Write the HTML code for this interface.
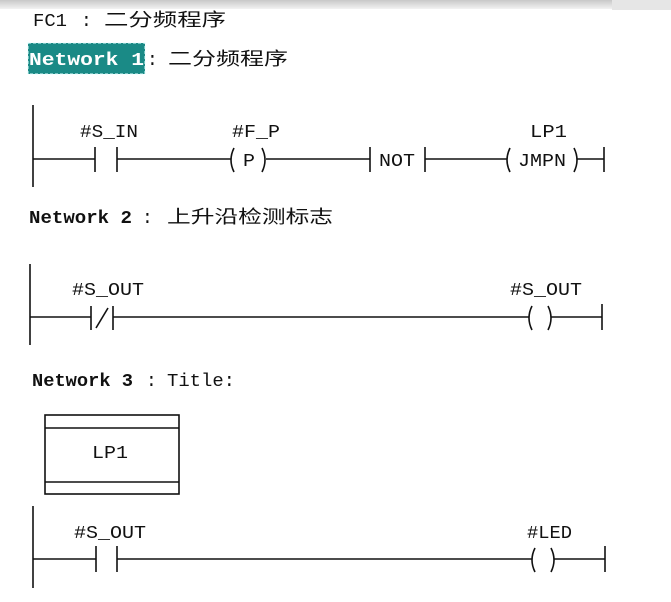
<!DOCTYPE html>
<html><head><meta charset="utf-8"><style>
html,body{margin:0;padding:0;background:#fff;}
body{width:671px;height:602px;overflow:hidden;position:relative;}
svg{position:absolute;left:0;top:0;}
text{font-family:"Liberation Mono","Noto Sans CJK SC",monospace;font-size:18px;fill:#111;}
.c{font-family:"Noto Sans CJK SC","WenQuanYi Zen Hei",sans-serif;font-size:18px;}
.b{font-weight:bold;}
</style></head><body>
<svg width="671" height="602" viewBox="0 0 671 602">
<defs><linearGradient id="g" x1="0" y1="0" x2="0" y2="1"><stop offset="0" stop-color="#c8c8c8"/><stop offset="1" stop-color="#f2f2f2"/></linearGradient></defs>
<rect x="0" y="0" width="671" height="9" fill="url(#g)"/>
<rect x="612" y="0" width="59" height="10" fill="#e6e6e6"/>
<g stroke="#111" stroke-width="1.6" fill="none">
<line x1="33" y1="105" x2="33" y2="187"/>
<line x1="33" y1="159" x2="95" y2="159"/>
<line x1="95" y1="147" x2="95" y2="172"/><line x1="117" y1="147" x2="117" y2="172"/>
<line x1="117" y1="159" x2="231" y2="159"/>
<path d="M234 148 Q228 160 234 172"/><path d="M262 148 Q268 160 262 172"/>
<line x1="266" y1="159" x2="370" y2="159"/>
<line x1="370" y1="147" x2="370" y2="172"/><line x1="425" y1="147" x2="425" y2="172"/>
<line x1="425" y1="159" x2="507" y2="159"/>
<path d="M510 148 Q504 160 510 172"/><path d="M574 148 Q580 160 574 172"/>
<line x1="577" y1="159" x2="604" y2="159"/>
<line x1="604" y1="147" x2="604" y2="172"/>
<line x1="30" y1="264" x2="30" y2="345"/>
<line x1="30" y1="317" x2="91" y2="317"/>
<line x1="91" y1="306" x2="91" y2="330"/><line x1="113" y1="306" x2="113" y2="330"/>
<line x1="96" y1="328" x2="108" y2="308"/>
<line x1="113" y1="317" x2="529" y2="317"/>
<path d="M532 306 Q526 318 532 330"/><path d="M548 306 Q554 318 548 330"/>
<line x1="551" y1="317" x2="602" y2="317"/>
<line x1="602" y1="304" x2="602" y2="330"/>
<rect x="45" y="415" width="134" height="79"/>
<line x1="45" y1="428" x2="179" y2="428"/><line x1="45" y1="482" x2="179" y2="482"/>
<line x1="33" y1="506" x2="33" y2="588"/>
<line x1="33" y1="559" x2="96" y2="559"/>
<line x1="96" y1="546" x2="96" y2="572"/><line x1="117" y1="546" x2="117" y2="572"/>
<line x1="117" y1="559" x2="532" y2="559"/>
<path d="M535 548 Q529 560 535 572"/><path d="M551 548 Q557 560 551 572"/>
<line x1="554" y1="559" x2="605" y2="559"/>
<line x1="605" y1="546" x2="605" y2="572"/>
</g>
<rect x="28" y="43" width="117" height="31" fill="#1a8a86"/>
<rect x="28" y="43" width="117" height="31" fill="none" stroke="#dff" stroke-width="1" stroke-dasharray="3,2"/>
<text x="33" y="26" textLength="34" lengthAdjust="spacingAndGlyphs">FC1</text>
<text x="81" y="26">:</text>
<text x="104" y="26" class="c" textLength="122" lengthAdjust="spacingAndGlyphs">二分频程序</text>
<text x="29" y="65" class="b" style="fill:#fff" textLength="115" lengthAdjust="spacingAndGlyphs">Network 1</text>
<text x="147" y="65">:</text>
<text x="168" y="65" class="c" textLength="120" lengthAdjust="spacingAndGlyphs">二分频程序</text>
<text x="80" y="137" textLength="58" lengthAdjust="spacingAndGlyphs">#S_IN</text>
<text x="232" y="137" textLength="48" lengthAdjust="spacingAndGlyphs">#F_P</text>
<text x="243" y="166" textLength="12" lengthAdjust="spacingAndGlyphs">P</text>
<text x="379" y="166" textLength="36" lengthAdjust="spacingAndGlyphs">NOT</text>
<text x="530" y="137" textLength="37" lengthAdjust="spacingAndGlyphs">LP1</text>
<text x="518" y="166" textLength="48" lengthAdjust="spacingAndGlyphs">JMPN</text>
<text x="29" y="223" class="b" textLength="103" lengthAdjust="spacingAndGlyphs">Network 2</text>
<text x="142" y="223">:</text>
<text x="167" y="223" class="c" textLength="166" lengthAdjust="spacingAndGlyphs">上升沿检测标志</text>
<text x="72" y="295" textLength="72" lengthAdjust="spacingAndGlyphs">#S_OUT</text>
<text x="510" y="295" textLength="72" lengthAdjust="spacingAndGlyphs">#S_OUT</text>
<text x="32" y="386" class="b" textLength="101" lengthAdjust="spacingAndGlyphs">Network 3</text>
<text x="146" y="386">:</text>
<text x="167" y="386" textLength="68" lengthAdjust="spacingAndGlyphs">Title:</text>
<text x="92" y="458" textLength="36" lengthAdjust="spacingAndGlyphs">LP1</text>
<text x="74" y="538" textLength="72" lengthAdjust="spacingAndGlyphs">#S_OUT</text>
<text x="527" y="538" textLength="45" lengthAdjust="spacingAndGlyphs">#LED</text>
</svg>
</body></html>
